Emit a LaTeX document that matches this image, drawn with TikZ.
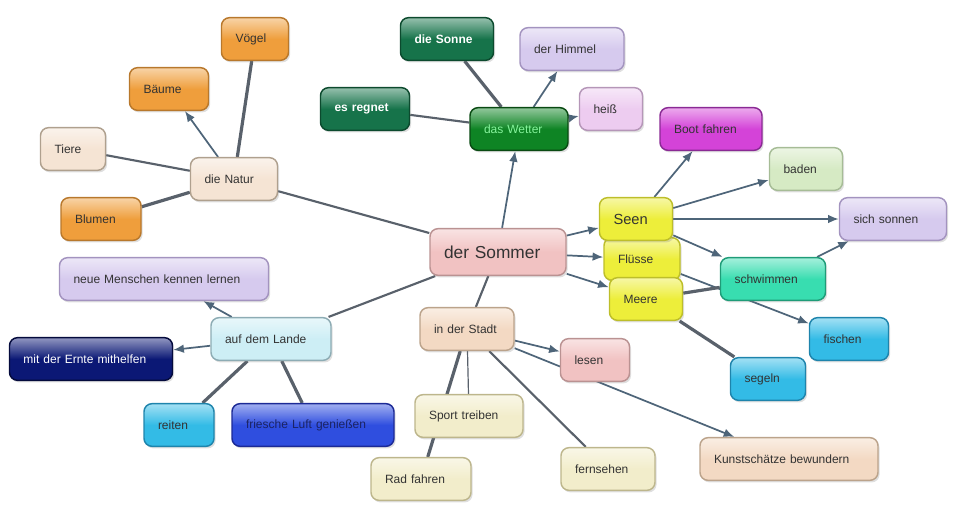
\documentclass[tikz,border=0pt]{standalone}
\usepackage{fontspec}
\setmainfont{Liberation Sans}
\usetikzlibrary{arrows.meta,shadows,backgrounds}

\definecolor{ink}{HTML}{333333}
\definecolor{linkc}{HTML}{59616B}
\definecolor{arrowc}{HTML}{4E6579}
\definecolor{orangeF}{HTML}{EF9E3C}\definecolor{orangeD}{HTML}{B8782C}
\definecolor{creamF}{HTML}{F5E4D4}\definecolor{creamD}{HTML}{AFA08E}
\definecolor{pineF}{HTML}{16734A}\definecolor{pineD}{HTML}{0C4A2E}
\definecolor{greenF}{HTML}{0E8424}\definecolor{greenD}{HTML}{094A12}
\definecolor{greenT}{HTML}{86F39C}
\definecolor{lilacF}{HTML}{D6CAEE}\definecolor{lilacD}{HTML}{A393BF}
\definecolor{rosyF}{HTML}{EDCCF0}\definecolor{rosyD}{HTML}{B596B8}
\definecolor{magF}{HTML}{D443D8}\definecolor{magD}{HTML}{8A2A94}
\definecolor{mintF}{HTML}{D6EAC4}\definecolor{mintD}{HTML}{A6BC96}
\definecolor{yellowF}{HTML}{EDEE3A}\definecolor{yellowD}{HTML}{BDBE2A}
\definecolor{tealF}{HTML}{38DDB0}\definecolor{tealD}{HTML}{1F9C78}
\definecolor{skyF}{HTML}{33BBE6}\definecolor{skyD}{HTML}{1E84AC}
\definecolor{pinkF}{HTML}{F1C2C2}\definecolor{pinkD}{HTML}{BA9292}
\definecolor{iceF}{HTML}{CDEEF5}\definecolor{iceD}{HTML}{8DACB4}
\definecolor{navyF}{HTML}{0B1875}\definecolor{navyD}{HTML}{040A3C}
\definecolor{blueF}{HTML}{2F4EDF}\definecolor{blueD}{HTML}{1C2A96}
\definecolor{blueT}{HTML}{1B2364}
\definecolor{peachF}{HTML}{F3D9C3}\definecolor{peachD}{HTML}{BBA38B}
\definecolor{sandF}{HTML}{F2EDCB}\definecolor{sandD}{HTML}{BDB68C}

\begin{document}
\begin{tikzpicture}[x=0.75pt,y=-0.75pt,
    box/.style={rounded corners=6pt, line width=1.1pt, inner xsep=10.5pt,
      inner ysep=2pt, minimum height=32pt, align=left, text=ink,
      font=\fontsize{9}{11}\selectfont,
      drop shadow={shadow xshift=1.2pt, shadow yshift=-1.6pt, opacity=.25}},
    paint/.style 2 args={top color=#1!45!white, bottom color=#1,
      middle color=#1, draw=#2},
    link/.style={draw=linkc, line width=1.6pt},
    slim/.style={draw=linkc, line width=.9pt},
    heavy/.style={draw=linkc, line width=2.4pt},
    arr/.style={draw=arrowc, line width=1.3pt, -{Latex[length=8pt,width=6.5pt]}}]

      \useasboundingbox (0,0) rectangle (958,511);

      \begin{scope}[every node/.style={box}]
        \node[paint={pinkF}{pinkD}, text width=81pt, minimum height=35pt,
          font=\fontsize{13}{15}\selectfont] (1) at (498,252) {der Sommer};
        \node[paint={creamF}{creamD}, text width=44.25pt] (2) at (234,179) {die Natur};
        \node[paint={orangeF}{orangeD}, text width=29.25pt] (3) at (255,39) {Vögel};
        \node[paint={orangeF}{orangeD}, text width=38.25pt] (4) at (169,89) {Bäume};
        \node[paint={creamF}{creamD}, text width=27.75pt] (5) at (73,149) {Tiere};
        \node[paint={orangeF}{orangeD}, text width=39pt] (6) at (101,219) {Blumen};
        \node[paint={greenF}{greenD}, text width=52.5pt, text=greenT] (7) at (519,129) {das Wetter};
        \node[paint={pineF}{pineD}, text width=48.75pt, text=white,
          font=\fontsize{9}{11}\selectfont\bfseries] (8) at (447,39) {die Sonne};
        \node[paint={pineF}{pineD}, text width=45.75pt, text=white,
          font=\fontsize{9}{11}\selectfont\bfseries] (9) at (365,109) {es regnet};
        \node[paint={lilacF}{lilacD}, text width=57pt] (10) at (572,49) {der Himmel};
        \node[paint={rosyF}{rosyD}, text width=26.25pt] (11) at (611,109) {heiß};
        \node[paint={yellowF}{yellowD}, text width=36pt] (13) at (642,259) {Flüsse};
        \node[paint={yellowF}{yellowD}, text width=33.75pt] (14) at (646,299) {Meere};
        \node[paint={yellowF}{yellowD}, text width=33.75pt,
          font=\fontsize{11}{13}\selectfont] (12) at (636,219) {Seen};
        \node[paint={magF}{magD}, text width=55.5pt] (15) at (711,129) {Boot fahren};
        \node[paint={mintF}{mintD}, text width=33.75pt] (16) at (806,169) {baden};
        \node[paint={lilacF}{lilacD}, text width=59.25pt] (17) at (893,219) {sich sonnen};
        \node[paint={tealF}{tealD}, text width=57.75pt] (18) at (773,279) {schwimmen};
        \node[paint={skyF}{skyD}, text width=38.25pt] (19) at (849,339) {fischen};
        \node[paint={skyF}{skyD}, text width=35.25pt] (20) at (768,379) {segeln};
        \node[paint={iceF}{iceD}, text width=69pt] (21) at (271,339) {auf dem Lande};
        \node[paint={lilacF}{lilacD}, text width=135.75pt] (22) at (164,279) {neue Menschen kennen lernen};
        \node[paint={navyF}{navyD}, text width=101.25pt, text=white] (23) at (91,359) {mit der Ernte mithelfen};
        \node[paint={skyF}{skyD}, text width=31.5pt] (24) at (179,425) {reiten};
        \node[paint={blueF}{blueD}, text width=100.5pt, text=blueT] (25) at (313,425) {friesche Luft genießen};
        \node[paint={peachF}{peachD}, text width=49.5pt] (26) at (467,329) {in der Stadt};
        \node[paint={pinkF}{pinkD}, text width=30.75pt] (27) at (595,360) {lesen};
        \node[paint={sandF}{sandD}, text width=60pt] (28) at (469,416) {Sport treiben};
        \node[paint={sandF}{sandD}, text width=54pt] (29) at (421,479) {Rad fahren};
        \node[paint={sandF}{sandD}, text width=49.5pt] (30) at (608,469) {fernsehen};
        \node[paint={peachF}{peachD}, text width=112.5pt] (31) at (789,459) {Kunstschätze bewundern};
      \end{scope}

      \begin{scope}[on background layer]
        \path (1)  edge[link] (2);
        \path (2)  edge[arr] (4);
        \path (2)  edge[heavy] (3);
        \path (2)  edge[link] (5);
        \path (2)  edge[heavy] (6);
        \path (1)  edge[arr] (7);
        \path (7)  edge[heavy] (8);
        \path (7)  edge[link] (9);
        \path (7)  edge[arr] (10);
        \path (7)  edge[arr] (11);
        \path (1)  edge[arr] (12);
        \path (1)  edge[arr] (13);
        \path (1)  edge[arr] (14);
        \path (12) edge[arr] (15);
        \path (12) edge[arr] (16);
        \path (12) edge[arr] (17);
        \path (12) edge[arr] (18);
        \path (18) edge[arr] (17);
        \path (13) edge[arr] (19);
        \path (14) edge[heavy] (18);
        \path (14) edge[heavy] (20);
        \path (1)  edge[link] (21);
        \path (21) edge[arr] (22);
        \path (21) edge[arr] (23);
        \path (21) edge[heavy] (24);
        \path (21) edge[heavy] (25);
        \path (1)  edge[link] (26);
        \path (26) edge[arr] (27);
        \path (26) edge[arr] (31);
        \path (26) edge[slim] (28);
        \path (26) edge[heavy] (29);
        \path (26) edge[link] (30);
      \end{scope}

    \end{tikzpicture}
\end{document}
